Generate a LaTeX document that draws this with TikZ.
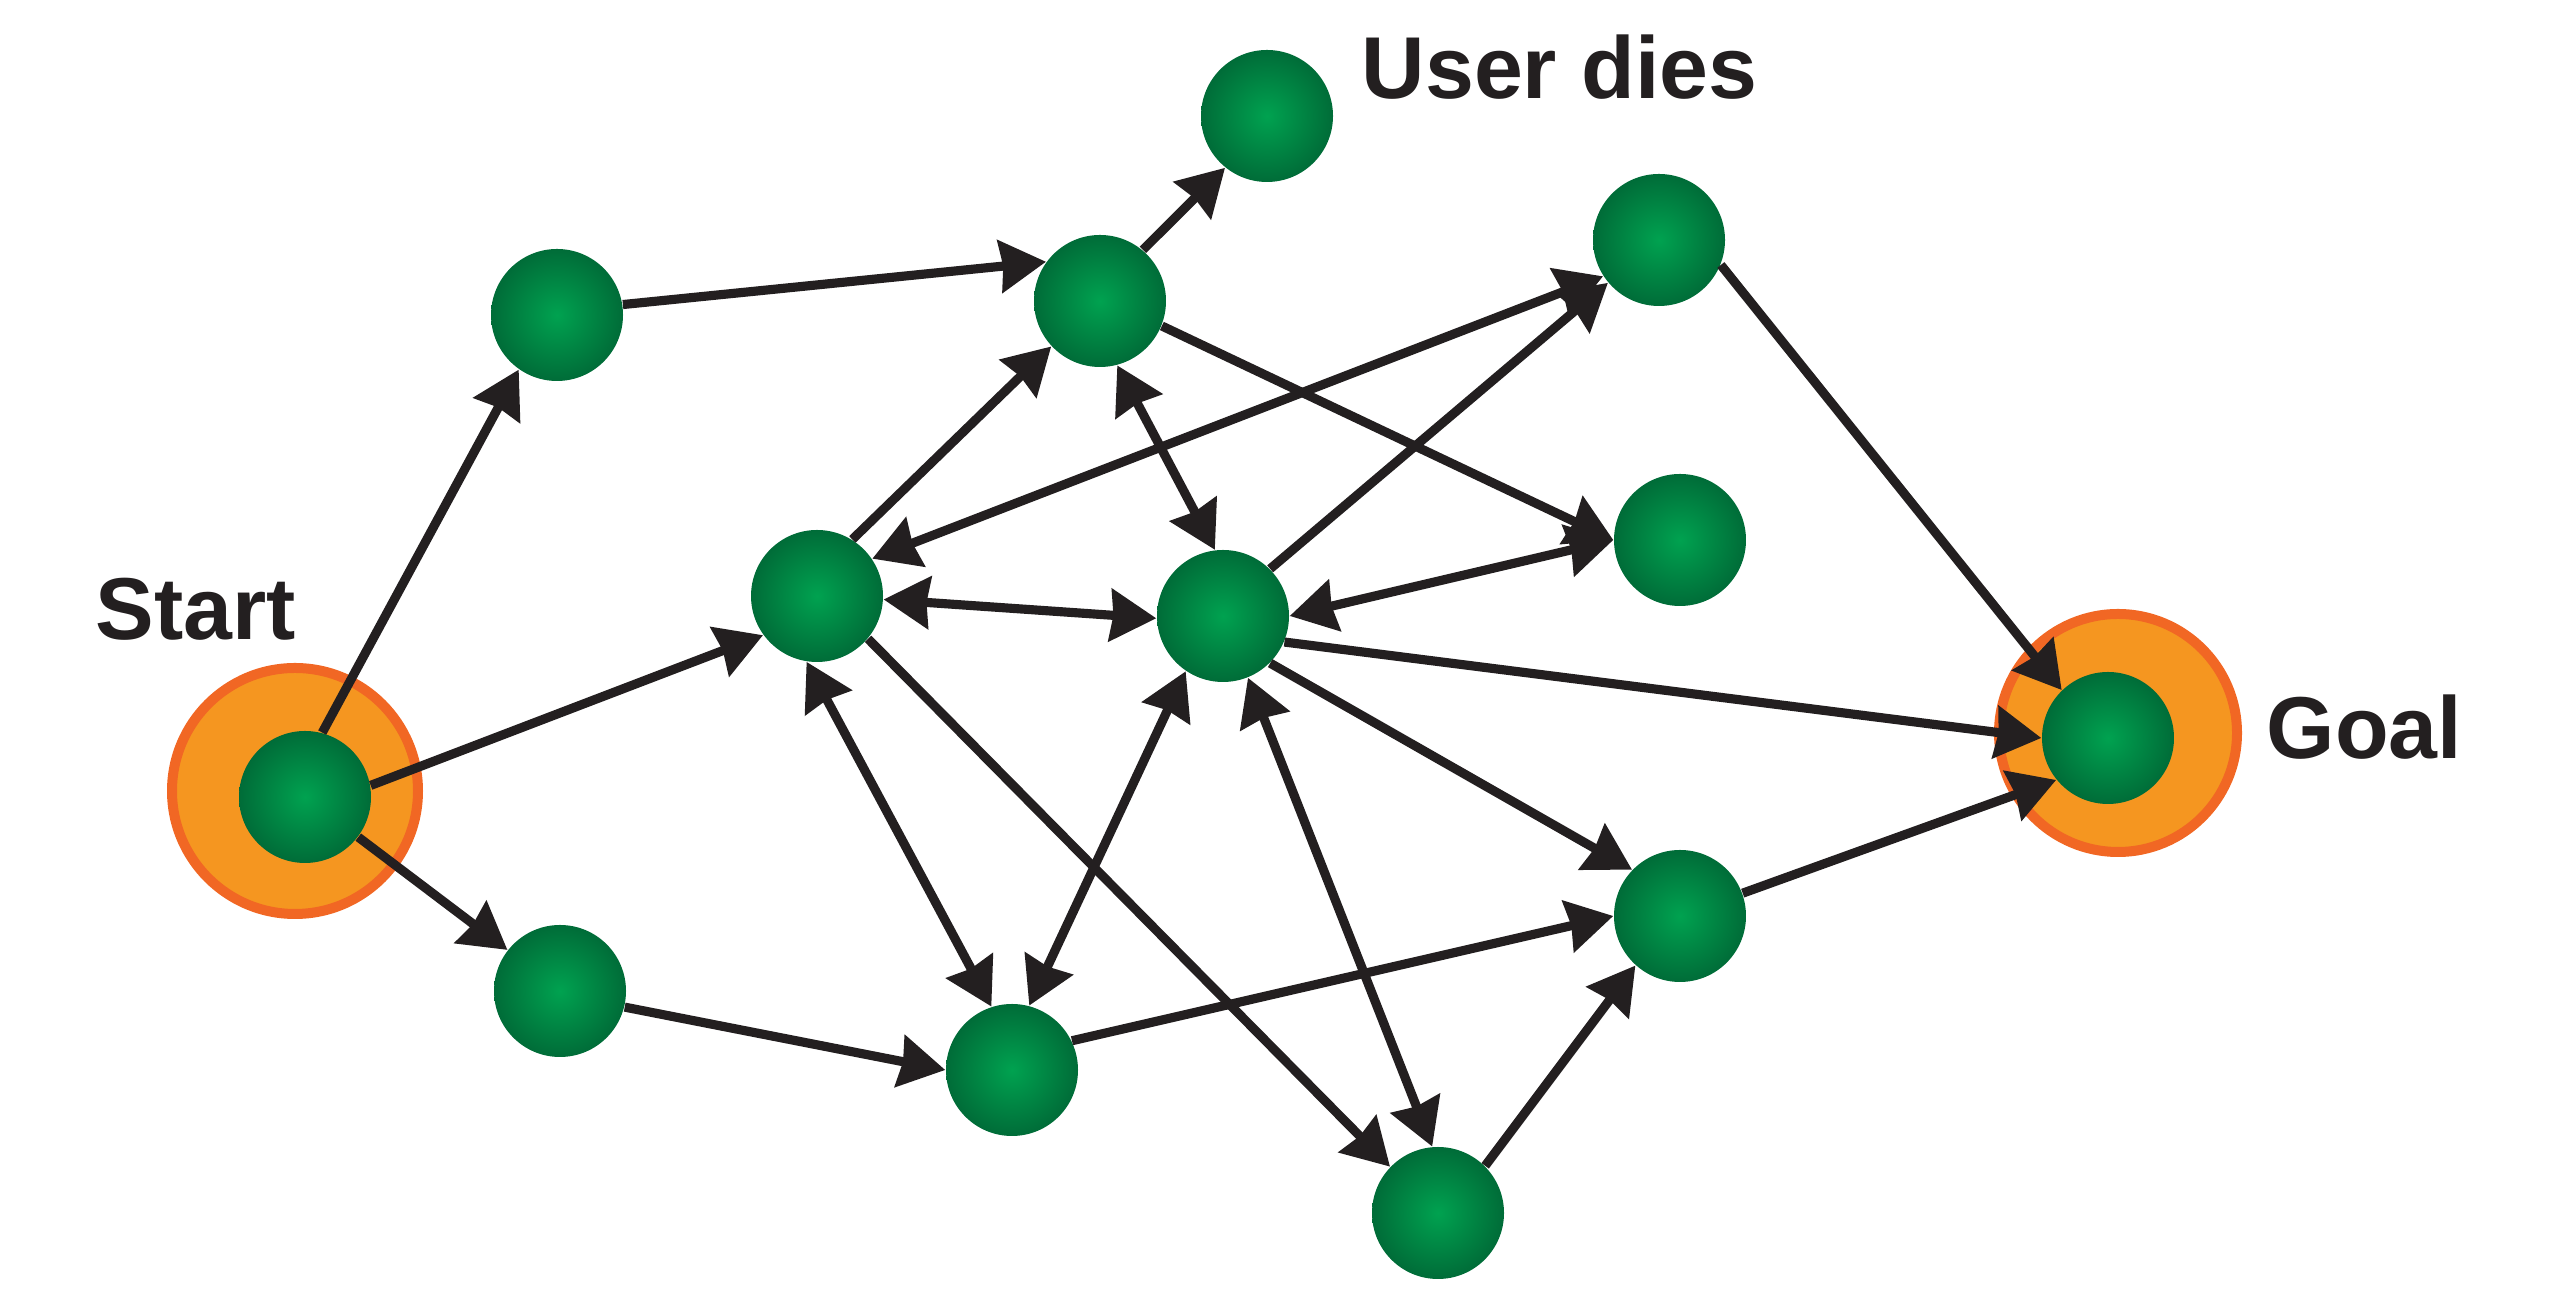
\documentclass[tikz,border=0pt]{standalone}
\usepackage{fontspec}
\setmainfont{Liberation Sans}
\definecolor{ballgreen}{RGB}{0, 162, 80}
\definecolor{balldark}{RGB}{0, 108, 56}
\definecolor{ringfill}{RGB}{245, 150, 32}
\definecolor{ringedge}{RGB}{241, 103, 36}
\definecolor{inkdark}{RGB}{35, 31, 32}
\usepackage{tikz}
\usetikzlibrary{arrows.meta, positioning}

\begin{document}
\begin{tikzpicture}[
  >={Stealth[length=4.6mm, width=5.2mm, inset=0.3mm]},
  state/.style={circle, minimum size=1.32cm, inner sep=0pt, shading=radial, inner color=ballgreen, outer color=balldark},
  ring/.style={circle, draw=ringedge, line width=1mm, fill=ringfill, inner sep=0pt},
  link/.style={->, line width=2.6pt, draw=inkdark},
  both/.style={<->, line width=2.6pt, draw=inkdark},
  tag/.style={font=\fontsize{25}{30}\selectfont\bfseries, text=inkdark, inner sep=0pt, anchor=base west}
]
  \useasboundingbox (0, 0) rectangle (25.6, 13.11);

  % Start and goal rings
  \node[ring, minimum size=2.46cm] (startring) at (2.95, 5.20) {};
  \node[ring, minimum size=2.38cm] (goalring) at (21.18, 5.78) {};

  % States
  \node[state] (s) at (3.05, 5.14) {};
  \node[state] (a) at (5.57, 9.96) {};
  \node[state] (b) at (11.00, 10.10) {};
  \node[state] (u) at (12.67, 11.95) {};
  \node[state] (c) at (16.59, 10.71) {};
  \node[state] (d) at (8.17, 7.15) {};
  \node[state] (e) at (12.23, 6.95) {};
  \node[state] (f) at (16.80, 7.71) {};
  \node[state] (g) at (5.60, 3.20) {};
  \node[state] (h) at (10.12, 2.41) {};
  \node[state] (i) at (16.80, 3.95) {};
  \node[state] (j) at (14.38, 0.98) {};
  \node[state] (goal) at (21.08, 5.73) {};

  % Labels
  \node[tag] (startlabel) at (0.95, 6.71) {Start};
  \node[tag] (dieslabel) at (13.61, 12.12) {User dies};
  \node[tag] (goallabel) at (22.66, 5.52) {Goal};

  % From start
  \draw[link] (s.75) -- (a.235);
  \draw[link] (s.10) -- (d.216);
  \draw[link] (s.-37) -- (g.142);

  % Upper part
  \draw[link] (a.9) -- (b.144);
  \draw[link] (b.50) -- (u.231);
  \draw[link] (b.-22) -- (f.180);
  \draw[link] (d.58) -- (b.223);
  \draw[both] (b.285) -- (e.97);
  \draw[both] (d.34) -- (c.213);
  \draw[link] (e.45) -- (c.220);
  \draw[both] (d.-3) -- (e.182);
  \draw[both] (e.0) -- (f.180);

  % Into the goal
  \draw[link] (c.-22) -- (goal.134);
  \draw[link] (e.-23) -- (goal.180);
  \draw[link] (i.20) -- (goal.219);

  % Lower part
  \draw[link] (e.-45) -- (i.136);
  \draw[both] (d.261) -- (h.108);
  \draw[both] (e.236) -- (h.75);
  \draw[link] (g.-14) -- (h.180);
  \draw[link] (h.26) -- (i.180);
  \draw[link] (d.-40) -- (j.136);
  \draw[both] (e.-68) -- (j.95);
  \draw[link] (j.45) -- (i.228);
\end{tikzpicture}
\end{document}
